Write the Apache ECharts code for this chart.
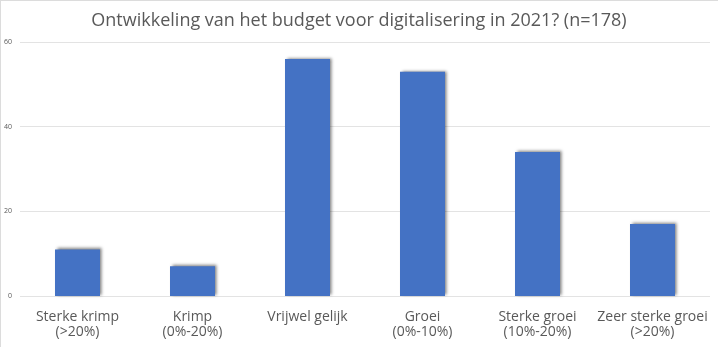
<!DOCTYPE html>
<html>
<head>
<meta charset="utf-8">
<script src="https://cdn.jsdelivr.net/npm/echarts@6/dist/echarts.min.js"></script>
<style>
  html, body { margin: 0; padding: 0; background: #ffffff; }
  #chart { width: 718px; height: 347px; }
</style>
</head>
<body>
<div id="chart"></div>
<script>
// Budget development for digitalisation in 2021, number of respondents per answer
const categories = [
  'Sterke krimp\n(>20%)',
  'Krimp\n(0%-20%)',
  'Vrijwel gelijk',
  'Groei\n(0%-10%)',
  'Sterke groei\n(10%-20%)',
  'Zeer sterke groei\n(>20%)'
];
const respondents = [11, 7, 56, 53, 34, 17];
const yTicks = [0, 20, 40, 60];

const chart = echarts.init(document.getElementById('chart'), null, { renderer: 'canvas' });

chart.setOption({
  animation: false,
  backgroundColor: '#ffffff',
  title: {
    text: 'Ontwikkeling van het budget voor digitalisering in 2021? (n=178)',
    left: 'center',
    top: 7,
    textStyle: {
      fontFamily: 'Open Sans',
      fontSize: 18,
      fontWeight: 'normal',
      color: '#595959'
    }
  },
  grid: { left: 20, right: 8, top: 42, bottom: 51, containLabel: false },
  xAxis: {
    type: 'category',
    data: categories,
    axisLine: { show: false },
    axisTick: { show: false },
    axisLabel: {
      interval: 0,
      margin: 14,
      fontFamily: 'Open Sans',
      fontSize: 14,
      lineHeight: 15,
      color: '#595959'
    }
  },
  yAxis: {
    type: 'value',
    min: yTicks[0],
    max: yTicks[yTicks.length - 1],
    interval: 20,
    axisLine: { show: false },
    axisTick: { show: false },
    axisLabel: {
      margin: 8,
      fontFamily: 'Open Sans',
      fontSize: 7,
      color: '#595959'
    },
    splitLine: { lineStyle: { color: '#e3e3e3', width: 1 } }
  },
  series: [{
    type: 'bar',
    data: respondents,
    barWidth: 45,
    itemStyle: {
      color: '#4472C4',
      shadowColor: 'rgba(0,0,0,0.5)',
      shadowBlur: 3,
      shadowOffsetX: 1.5,
      shadowOffsetY: -1
    }
  }],
  graphic: [
    { type: 'line', shape: { x1: 0, y1: 0.5, x2: 718, y2: 0.5 }, style: { stroke: '#dcdcdc', lineWidth: 1 } },
    { type: 'line', shape: { x1: 0.5, y1: 0, x2: 0.5, y2: 347 }, style: { stroke: '#dcdcdc', lineWidth: 1 } }
  ]
});
</script>
</body>
</html>
